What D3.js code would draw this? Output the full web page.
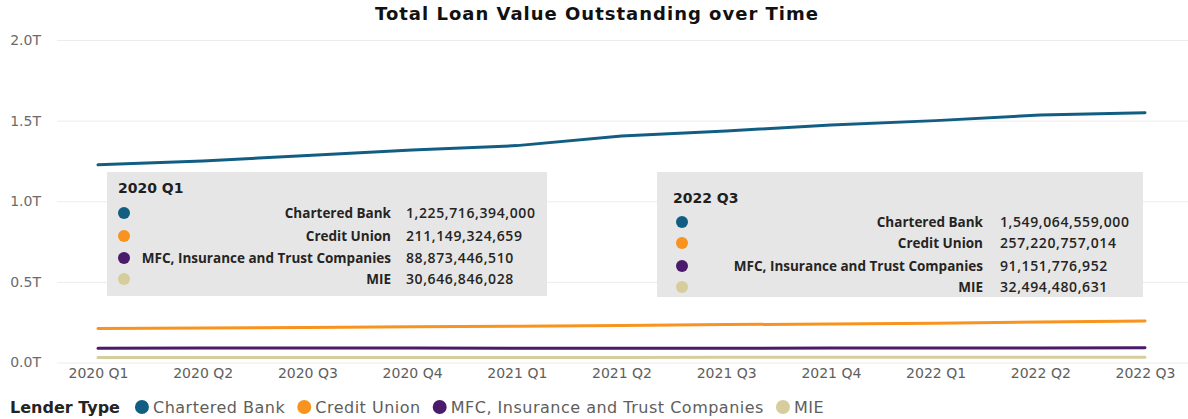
<!DOCTYPE html>
<html>
<head>
<meta charset="utf-8">
<script src="https://cdn.jsdelivr.net/npm/d3@7"></script>
<style>
  html, body { margin: 0; padding: 0; background: #fff; }
  svg { display: block; }
</style>
</head>
<body>
<svg id="chart" width="1188" height="419"></svg>
<script>
// Quarterly periods on the x axis
const quarters = ["2020 Q1", "2020 Q2", "2020 Q3", "2020 Q4", "2021 Q1", "2021 Q2",
                  "2021 Q3", "2021 Q4", "2022 Q1", "2022 Q2", "2022 Q3"];

// Lender types, in legend order
const lenderTypes = ["Chartered Bank", "Credit Union", "MFC, Insurance and Trust Companies", "MIE"];
const lenderColors = ["#125e83", "#f7931e", "#4b1a6b", "#d6cd9c"];

// Total loan value outstanding per quarter (dollars)
const charteredBank = [1225716394000, 1250000000000, 1283000000000, 1318000000000, 1345000000000,
                       1405000000000, 1436000000000, 1473000000000, 1500000000000, 1535000000000,
                       1549064559000];
const creditUnion   = [211149324659, 214000000000, 217000000000, 221000000000, 225000000000,
                       230000000000, 235000000000, 239000000000, 244000000000, 251000000000,
                       257220757014];
const mfcInsTrust   = [88873446510, 89300000000, 89700000000, 89400000000, 89000000000,
                       88700000000, 88800000000, 89200000000, 89700000000, 90400000000,
                       91151776952];
const mie           = [30646846028, 30800000000, 31000000000, 31200000000, 31400000000,
                       31600000000, 31800000000, 32000000000, 32200000000, 32350000000,
                       32494480631];

const yTicks = [0, 0.5e12, 1.0e12, 1.5e12, 2.0e12];
const yTickLabels = ["0.0T", "0.5T", "1.0T", "1.5T", "2.0T"];

// Quarters highlighted with a data card
const cardQuarters = ["2020 Q1", "2022 Q3"];

const seriesValues = [charteredBank, creditUnion, mfcInsTrust, mie];
const series = lenderTypes.map((name, i) => ({
  name, color: lenderColors[i],
  points: quarters.map((q, j) => ({ q, v: seriesValues[i][j] }))
}));

const svg = d3.select("#chart");
const W = 1188;

const x = d3.scalePoint().domain(quarters).range([98, 1145]);
const y = d3.scaleLinear().domain([0, 2e12]).range([362.5, 40]);

// Title
svg.append("text")
  .attr("x", 597).attr("y", 20)
  .attr("text-anchor", "middle")
  .attr("font-family", "'DejaVu Sans', sans-serif")
  .attr("font-weight", 700)
  .attr("font-size", 18)
  .attr("letter-spacing", 1)
  .attr("fill", "#111")
  .text("Total Loan Value Outstanding over Time");

// Y axis: gridlines and labels
const yAxis = d3.axisLeft(y)
  .tickValues(yTicks)
  .tickFormat((d, i) => yTickLabels[i])
  .tickSize(-(W - 57))
  .tickPadding(16);
const yg = svg.append("g").attr("transform", "translate(57,0)").call(yAxis);
yg.select(".domain").remove();
yg.selectAll(".tick line").attr("stroke", "#ececec").attr("stroke-width", 1);
yg.selectAll(".tick text")
  .attr("font-family", "'DejaVu Sans', sans-serif")
  .attr("font-size", 14)
  .attr("fill", "#6b6b6b");

// X axis labels
const xAxis = d3.axisBottom(x).tickSize(0).tickPadding(6);
const xg = svg.append("g").attr("transform", "translate(0,362.5)").call(xAxis);
xg.select(".domain").remove();
xg.selectAll(".tick text")
  .attr("font-family", "'DejaVu Sans', sans-serif")
  .attr("font-size", 14)
  .attr("fill", "#605e5c");

// Lines
const line = d3.line().x(d => x(d.q)).y(d => y(d.v));
svg.append("g").selectAll("path")
  .data(series.slice().reverse())
  .join("path")
  .attr("d", d => line(d.points))
  .attr("fill", "none")
  .attr("stroke", d => d.color)
  .attr("stroke-width", 3)
  .attr("stroke-linecap", "round")
  .attr("stroke-linejoin", "round");

// Data cards
const fmt = d3.format(",.0f");
const cards = [
  { q: cardQuarters[0], box: [107, 172, 440, 124], titleX: 118, titleY: 188, rows: [213, 236, 258, 279], dotX: 124, labelX: 391, valueX: 406 },
  { q: cardQuarters[1], box: [657, 172, 486, 125], titleX: 673, titleY: 198, rows: [222, 243, 266, 287], dotX: 682, labelX: 983, valueX: 1000 }
];
cards.forEach(c => {
  const g = svg.append("g");
  g.append("rect")
    .attr("x", c.box[0]).attr("y", c.box[1])
    .attr("width", c.box[2]).attr("height", c.box[3])
    .attr("fill", "#e6e6e6");
  g.append("text")
    .attr("x", c.titleX).attr("y", c.titleY)
    .attr("dy", "0.35em")
    .attr("font-family", "'DejaVu Sans', sans-serif")
    .attr("font-weight", 700)
    .attr("font-size", 14)
    .attr("fill", "#1f1f1f")
    .text(c.q);
  const qi = quarters.indexOf(c.q);
  series.forEach((s, i) => {
    const cy = c.rows[i];
    g.append("circle").attr("cx", c.dotX).attr("cy", cy).attr("r", 6).attr("fill", s.color);
    g.append("text")
      .attr("x", c.labelX).attr("y", cy).attr("dy", "0.35em")
      .attr("text-anchor", "end")
      .attr("font-family", "'Open Sans', sans-serif")
      .attr("font-weight", 700)
      .attr("font-size", 13.5)
      .attr("fill", "#252423")
      .text(s.name);
    g.append("text")
      .attr("x", c.valueX).attr("y", cy).attr("dy", "0.35em")
      .attr("font-family", "'Open Sans', sans-serif")
      .attr("font-weight", 600)
      .attr("font-size", 14)
      .attr("letter-spacing", 0.6)
      .attr("fill", "#252423")
      .text(fmt(s.points[qi].v));
  });
});

// Legend
const lg = svg.append("g").attr("transform", "translate(0,407)");
const lt = lg.append("text")
  .attr("x", 10).attr("y", 0).attr("dy", "0.35em")
  .attr("font-family", "'DejaVu Sans', sans-serif")
  .attr("font-weight", 700)
  .attr("font-size", 16)
  .attr("fill", "#252423")
  .text("Lender Type");
let cursor = 10 + lt.node().getComputedTextLength();
series.forEach((s, i) => {
  const cx = cursor + (i === 0 ? 22 : 19);
  lg.append("circle").attr("cx", cx).attr("cy", 0).attr("r", 7).attr("fill", s.color);
  const t = lg.append("text")
    .attr("x", cx + 11).attr("y", 0).attr("dy", "0.35em")
    .attr("font-family", "'DejaVu Sans', sans-serif")
    .attr("font-size", 16)
    .attr("letter-spacing", 0.5)
    .attr("fill", "#605e5c")
    .text(s.name);
  cursor = cx + 11 + t.node().getComputedTextLength();
});
</script>
</body>
</html>
